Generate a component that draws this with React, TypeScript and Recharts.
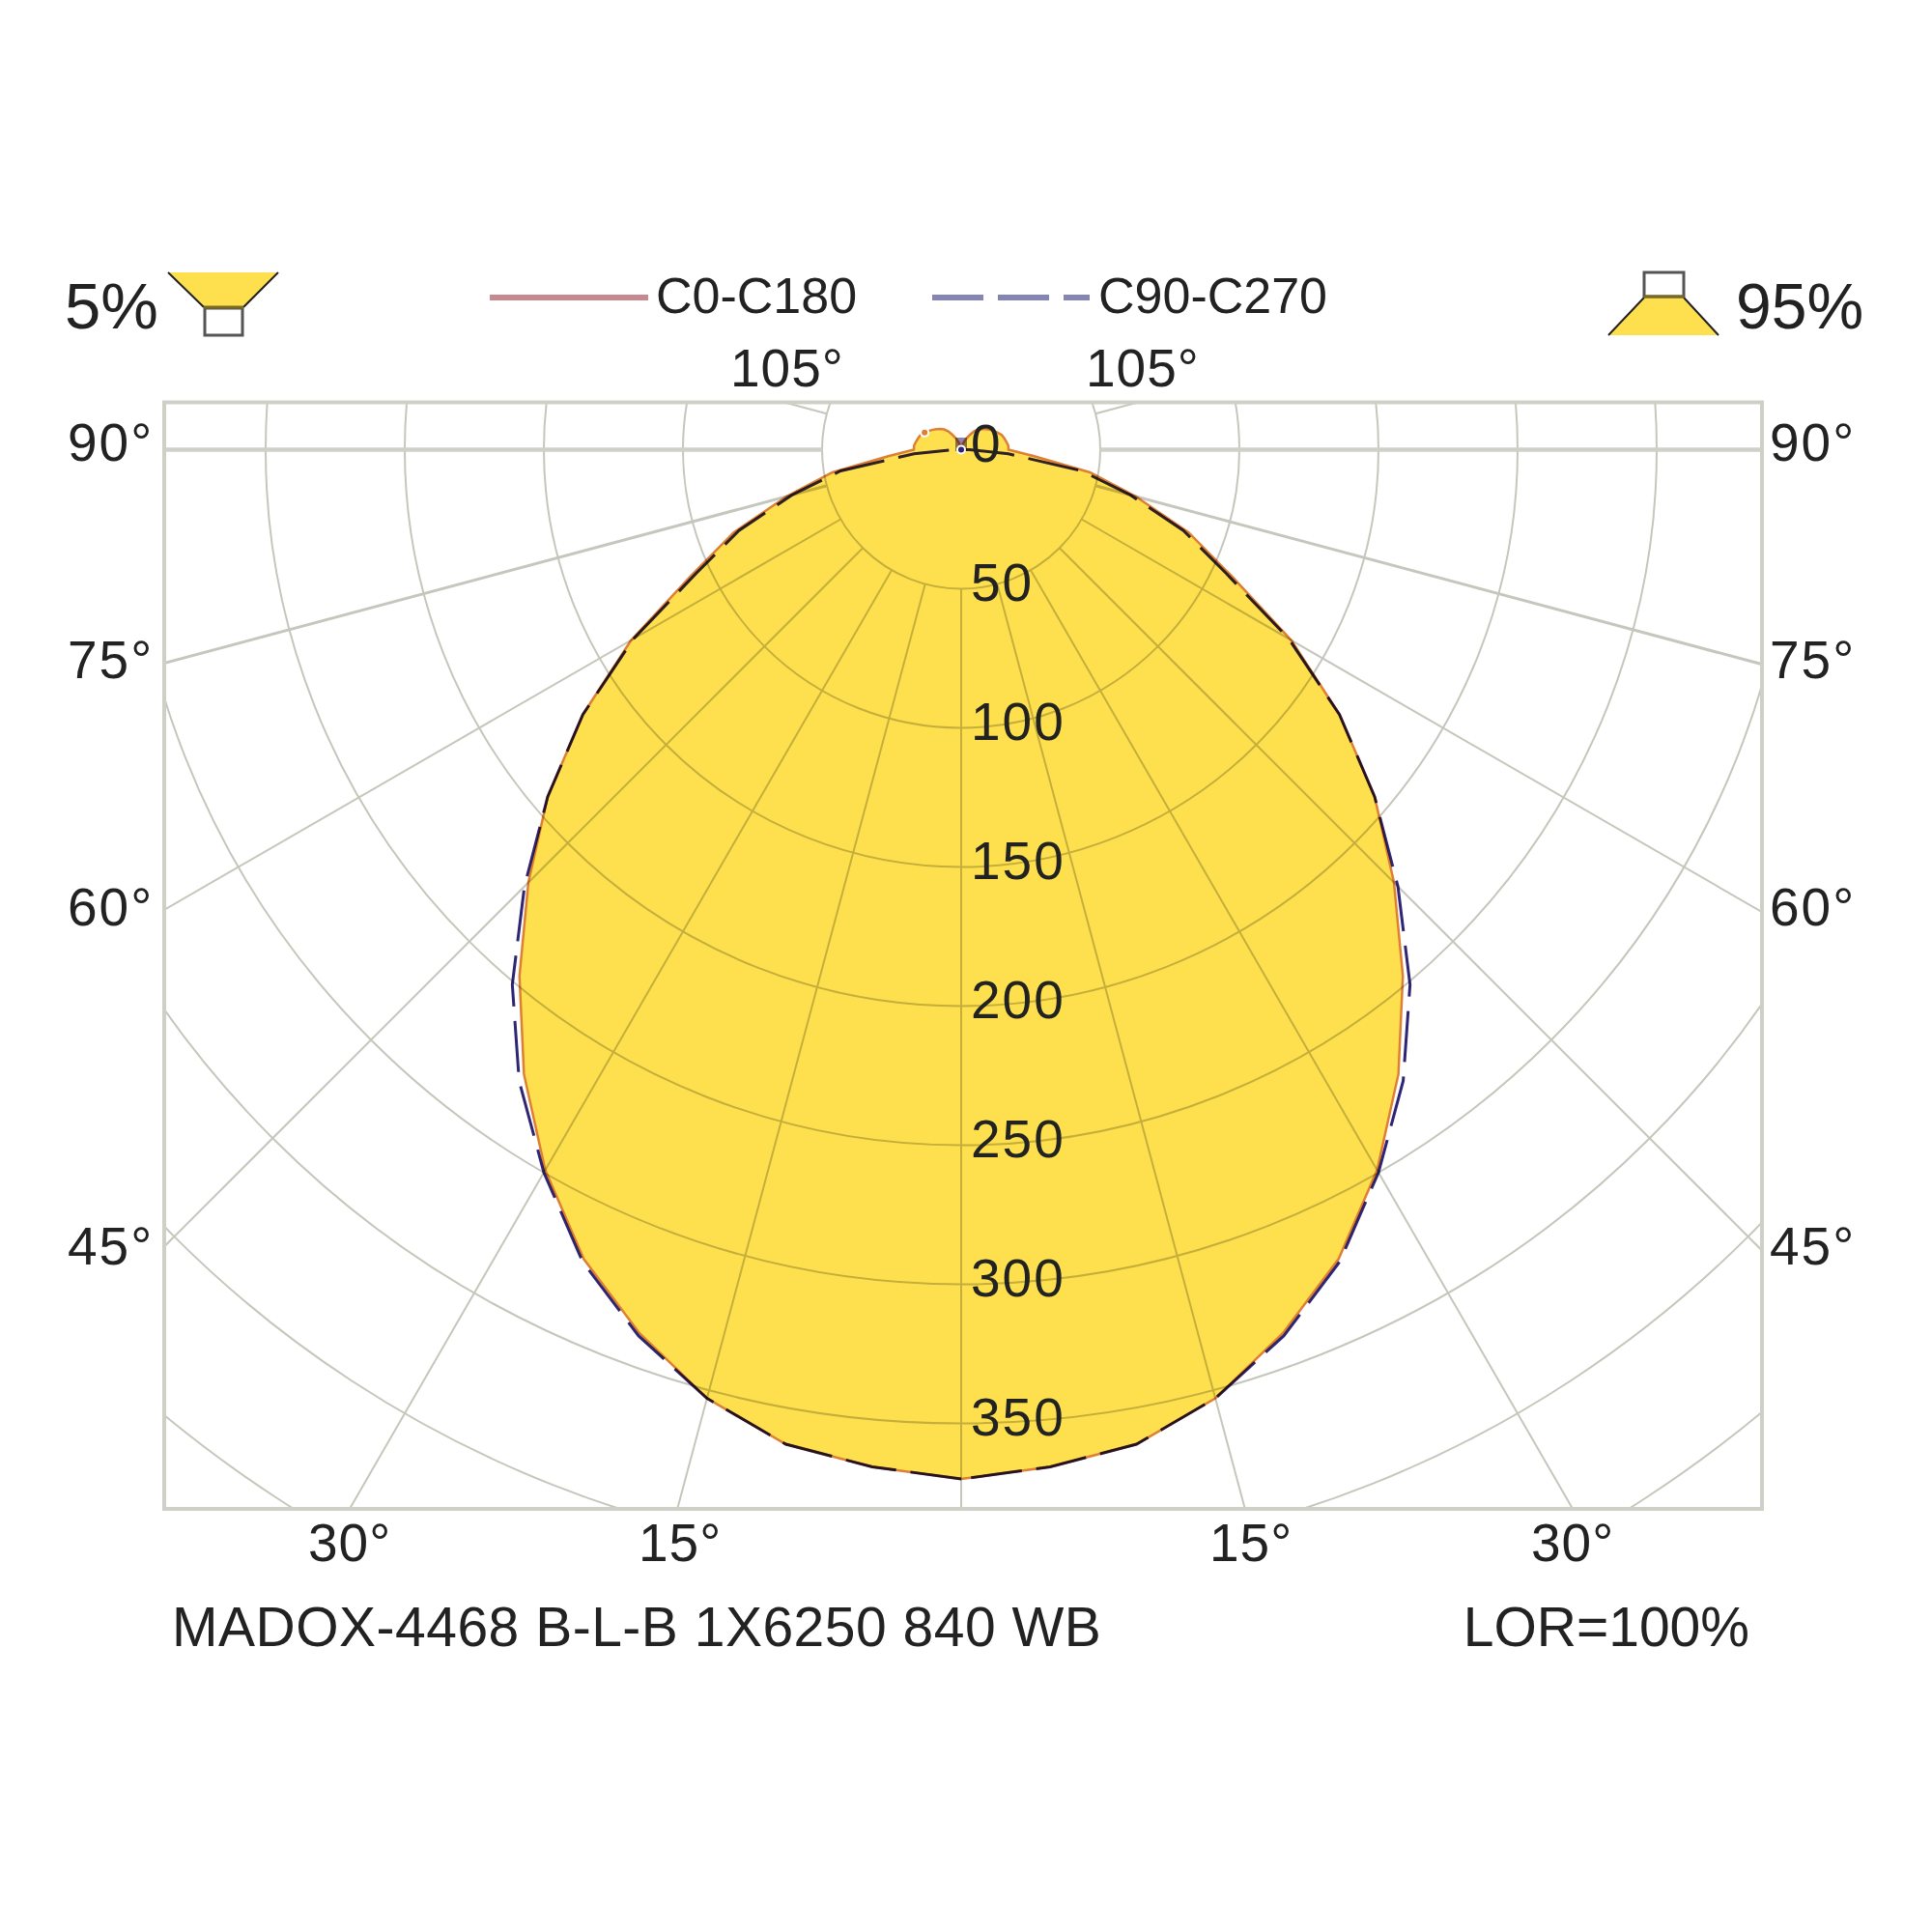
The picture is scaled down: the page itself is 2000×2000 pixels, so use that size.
import { RadarChart, Radar, PolarGrid, PolarAngleAxis, PolarRadiusAxis } from 'recharts'

// luminous intensity per gamma (0 = nadir, 5 deg steps up to 180)
const gammaLabels = [
  0, 5, 10, 15, 20, 25, 30, 35, 40, 45, 50, 55, 60, 65, 70, 75, 80, 85, 90, 95, 100, 105, 110, 115, 120, 125, 130, 135,
  140, 145, 150, 155, 160, 165, 170, 175, 180,
]
const c0c180 = [
  370, 367, 363, 353, 338, 321, 299, 274, 247, 220, 194, 166, 137, 107, 87, 65, 47, 26, 17, 17, 16.5, 16, 15.5, 14.5,
  13.5, 12.5, 11.5, 10.5, 9.5, 8, 6, 4.5, 3, 2, 1, 0.5, 0,
]
const c90c270 = [
  370, 367, 363, 353, 339, 322, 300, 277, 251, 222, 194, 166, 136, 105, 85, 63, 44, 17, 3, 0, 0, 0, 0, 0, 0, 0, 0, 0,
  0, 0, 0, 0, 0, 0, 0, 0, 0,
]
const ringValues = [50, 100, 150, 200, 250, 300, 350, 400, 450]
const radiusTicks = [0, 50, 100, 150, 200, 250, 300, 350]
const spokeAngles = [0, 15, 30, 45, 60, 105]

const CX = 995
const CY = 465.5
const PX_PER_UNIT = 144 / 50
const FRAME = { x: 170, y: 416.5, width: 1654, height: 1145.5 }

const YELLOW = '#fee04e'
const GRID = '#c6c6bc'
const INK = '#222222'
const FONT = '"Liberation Sans", Arial, sans-serif'

// walk round the circle: nadir, one side up to the top, then back down the other side
const tableRows = gammaLabels.map((g, i) => ({ gamma: g, c0: c0c180[i], c90: c90c270[i] }))
const table = [...tableRows, ...tableRows.slice(1, -1).reverse().map((r) => ({ ...r, gamma: -r.gamma }))]

const mirrored = (list: number[]) => list.flatMap((a) => (a === 0 ? [-90] : [-90 - a, -90 + a]))
const polarRadius = ringValues.map((v) => v * PX_PER_UNIT)

const angleLabels = [
  { text: '90°', y: 477 },
  { text: '75°', y: 702 },
  { text: '60°', y: 958 },
  { text: '45°', y: 1309 },
]
const bottomLabels = [
  { text: '30°', x: 319 },
  { text: '15°', x: 661 },
  { text: '15°', x: 1252 },
  { text: '30°', x: 1585 },
]

function RadiusTick({ x, y, payload }: any) {
  return (
    <text x={x + 10} y={y + 12} fontSize={55} letterSpacing={2} fontFamily={FONT} fill={INK} textAnchor="start">
      {payload.value}
    </text>
  )
}

function Label({ x, y, size = 55, children, ...rest }: any) {
  return (
    <text x={x} y={y} fontSize={size} fontFamily={FONT} fill={INK} {...rest}>
      {children}
    </text>
  )
}

export default function App() {
  return (
    <div style={{ position: 'absolute', left: 0, top: 0, width: 2000, height: 2000 }}>
      <style>{`
        .recharts-polar-grid { clip-path: url(#frame-clip); }
        .recharts-radar { mix-blend-mode: multiply; }
      `}</style>
      <RadarChart
        width={2000}
        height={2000}
        cx={CX}
        cy={CY}
        innerRadius={50 * PX_PER_UNIT}
        outerRadius={450 * PX_PER_UNIT}
        startAngle={-90}
        endAngle={-450}
        data={table}
        margin={{ top: 0, right: 0, bottom: 0, left: 0 }}
      >
        <defs>
          <clipPath id="frame-clip">
            <rect {...FRAME} />
          </clipPath>
        </defs>

        <PolarGrid
          gridType="circle"
          polarAngles={mirrored(spokeAngles)}
          polarRadius={polarRadius}
          stroke={GRID}
          strokeWidth={2}
        />
        <PolarGrid gridType="circle" polarAngles={mirrored([75])} polarRadius={[]} stroke={GRID} strokeWidth={3} />
        <PolarGrid gridType="circle" polarAngles={mirrored([90])} polarRadius={[]} stroke="#d0d0c8" strokeWidth={4.5} />

        <PolarAngleAxis dataKey="gamma" tick={false} axisLine={false} tickLine={false} />
        <Radar
          dataKey="c0"
          name="C0-C180"
          fill={YELLOW}
          fillOpacity={1}
          stroke="#dd7f34"
          strokeWidth={2.5}
          dot={false}
          isAnimationActive={false}
        />
        <Radar
          dataKey="c90"
          name="C90-C270"
          fill="none"
          fillOpacity={0}
          stroke="#2f2575"
          strokeWidth={3}
          strokeDasharray="53 15"
          dot={false}
          isAnimationActive={false}
        />
        <PolarRadiusAxis
          angle={-90}
          domain={[50, 450]}
          allowDataOverflow
          ticks={radiusTicks as any}
          axisLine={false}
          tickLine={false}
          tick={RadiusTick}
          orientation="right"
        />

        <rect {...FRAME} fill="none" stroke="#cfcfc7" strokeWidth={4} />
        <rect x={989} y={453} width={12} height={14} fill="#8d82b0" />

        {/* header */}
        <polygon points="174,282 288,282 252,318 211,318" fill={YELLOW} />
        <path d="M174 282 L211 318 M288 282 L252 318" stroke="#222" strokeWidth={2} fill="none" />
        <rect x={212} y={319} width={39} height={28} fill="#fff" stroke="#555" strokeWidth={3} />
        <line x1={211} y1={318} x2={252} y2={318} stroke="#7a6a20" strokeWidth={3} />
        <polygon points="1702,308 1743,308 1779,347 1665,347" fill={YELLOW} />
        <path d="M1702 308 L1665 347 M1743 308 L1779 347" stroke="#222" strokeWidth={2} fill="none" />
        <rect x={1702} y={282} width={41} height={25} fill="#fff" stroke="#555" strokeWidth={3} />
        <line x1={1702} y1={307} x2={1743} y2={307} stroke="#7a6a20" strokeWidth={3} />
        <Label x={67} y={340} size={67}>5%</Label>
        <Label x={1797} y={340} size={66}>95%</Label>

        <line x1={507} y1={308} x2={671} y2={308} stroke="#c58a8f" strokeWidth={6} />
        <Label x={679} y={324} size={52}>C0-C180</Label>
        <line x1={965} y1={308} x2={1128} y2={308} stroke="#8585b5" strokeWidth={6} strokeDasharray="53 15" />
        <Label x={1137} y={324} size={52}>C90-C270</Label>

        {/* angle labels around the frame */}
        <Label x={756} y={400} letterSpacing={1}>105°</Label>
        <Label x={1124} y={400} letterSpacing={1}>105°</Label>
        {angleLabels.map((l) => (
          <g key={l.text}>
            <Label x={70} y={l.y} letterSpacing={2}>{l.text}</Label>
            <Label x={1832} y={l.y} letterSpacing={2}>{l.text}</Label>
          </g>
        ))}
        {bottomLabels.map((l) => (
          <Label key={l.x} x={l.x} y={1616} letterSpacing={1}>{l.text}</Label>
        ))}

        <Label x={178} y={1704} size={57} letterSpacing={0.5}>MADOX-4468 B-L-B 1X6250 840 WB</Label>
        <Label x={1811} y={1704} size={57} textAnchor="end">LOR=100%</Label>
      </RadarChart>
    </div>
  )
}
